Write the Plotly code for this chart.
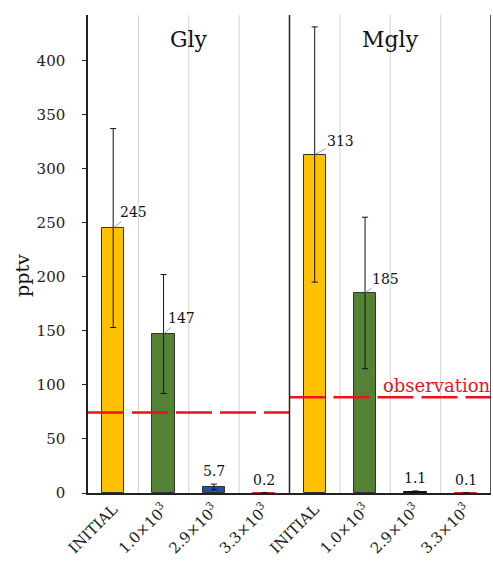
import plotly.graph_objects as go

categories = ["INITIAL", "1.0×10<sup>3</sup>", "2.9×10<sup>3</sup>", "3.3×10<sup>3</sup>",
              "INITIAL", "1.0×10<sup>3</sup>", "2.9×10<sup>3</sup>", "3.3×10<sup>3</sup>"]
values = [245, 147, 5.7, 0.2, 313, 185, 1.1, 0.1]
errors = [92, 55, 2.5, 0, 118, 70, 0.8, 0]
labels = ["245", "147", "5.7", "0.2", "313", "185", "1.1", "0.1"]
colors = ["#FFC000", "#548235", "#2250A8", "#E02020", "#FFC000", "#548235", "#111111", "#E02020"]
edge_colors = ["#333333", "#333333", "#333333", "#E02020", "#333333", "#333333", "#111111", "#E02020"]
groups = ["Gly", "Mgly"]
observation = [74.4, 88.6]
y_title = "pptv"

FONT = "DejaVu Serif"
xs = list(range(len(values)))

fig = go.Figure()
fig.add_trace(go.Bar(
    x=xs, y=values, width=0.44,
    marker=dict(color=colors, line=dict(color=edge_colors, width=1)),
    error_y=dict(type="data", array=errors, visible=True, color="#111111", thickness=1, width=3),
    showlegend=False, hoverinfo="skip",
))

# observation lines
for i, obs in enumerate(observation):
    fig.add_trace(go.Scatter(
        x=[i * 4 - 0.5, i * 4 + 3.5], y=[obs, obs], mode="lines",
        line=dict(color="#E8141A", width=2.5, dash="36px,8px"),
        showlegend=False, hoverinfo="skip",
    ))

shapes = []
for b in [0.5, 1.5, 2.5, 4.5, 5.5, 6.5]:
    shapes.append(dict(type="line", xref="x", yref="paper", x0=b, x1=b, y0=0, y1=1,
                       line=dict(color="#D9D9D9", width=1.2), layer="below"))
shapes.append(dict(type="line", xref="x", yref="paper", x0=3.5, x1=3.5, y0=0, y1=1,
                   line=dict(color="#222222", width=1.5)))
shapes.append(dict(type="line", xref="x", yref="paper", x0=7.5, x1=7.5, y0=0, y1=1,
                   line=dict(color="#222222", width=1.5)))

annotations = []
# group titles
for i, g in enumerate(groups):
    annotations.append(dict(x=i * 4 + 1.5, y=0.948, xref="x", yref="paper", text=g,
                             showarrow=False, yanchor="middle",
                             font=dict(family=FONT, size=22, color="#111111")))

# data labels with leader lines
offsets = {0: (20, -16), 1: (18, -16), 4: (26, -14), 5: (20, -14)}
for i, (v, e, lab) in enumerate(zip(values, errors, labels)):
    if i in offsets:
        ax, ay = offsets[i]
        annotations.append(dict(x=i, y=v, xref="x", yref="y", text=lab, showarrow=True,
                                arrowhead=0, arrowwidth=0.8, arrowcolor="#888888",
                                ax=ax, ay=ay, font=dict(family=FONT, size=14, color="#111111")))
    else:
        annotations.append(dict(x=i, y=v + e, xref="x", yref="y", text=lab, showarrow=False,
                                yanchor="bottom", yshift=3,
                                font=dict(family=FONT, size=14, color="#111111")))

annotations.append(dict(x=1.0, y=observation[1], xref="paper", yref="y", text="observation",
                        showarrow=False, xanchor="right", yanchor="bottom", yshift=-1, xshift=2,
                        font=dict(family=FONT, size=18, color="#E8141A")))

# y-axis title
annotations.append(dict(x=-0.164, y=0.456, xref="paper", yref="paper", text=y_title,
                        showarrow=False, textangle=-90, xanchor="center", yanchor="middle",
                        font=dict(family=FONT, size=19, color="#111111")))

fig.update_layout(
    width=493, height=562,
    margin=dict(l=88, r=2, t=15, b=69),
    paper_bgcolor="white", plot_bgcolor="white",
    bargap=0,
    shapes=shapes, annotations=annotations,
    font=dict(family=FONT, size=14, color="#222222"),
)
fig.update_xaxes(
    range=[-0.5, 7.5], tickmode="array", tickvals=xs, ticktext=categories,
    tickangle=-45, showgrid=False, showline=True, linecolor="#222222", linewidth=1.5,
    ticks="", tickfont=dict(family=FONT, size=15, color="#222222"), zeroline=False,
    automargin=False,
)
fig.update_yaxes(
    range=[0, 442], tickmode="array", tickvals=[0, 50, 100, 150, 200, 250, 300, 350, 400],
    showgrid=False, showline=True, linecolor="#222222", linewidth=1.5,
    ticks="outside", ticklen=4, tickcolor="#222222", zeroline=False,
    tickfont=dict(family=FONT, size=15, color="#222222"), ticklabelstandoff=14,
    automargin=False,
)

fig.write_html("out.html", config={"displayModeBar": False},
               post_script="document.body.style.margin='0';document.body.style.padding='0';")
